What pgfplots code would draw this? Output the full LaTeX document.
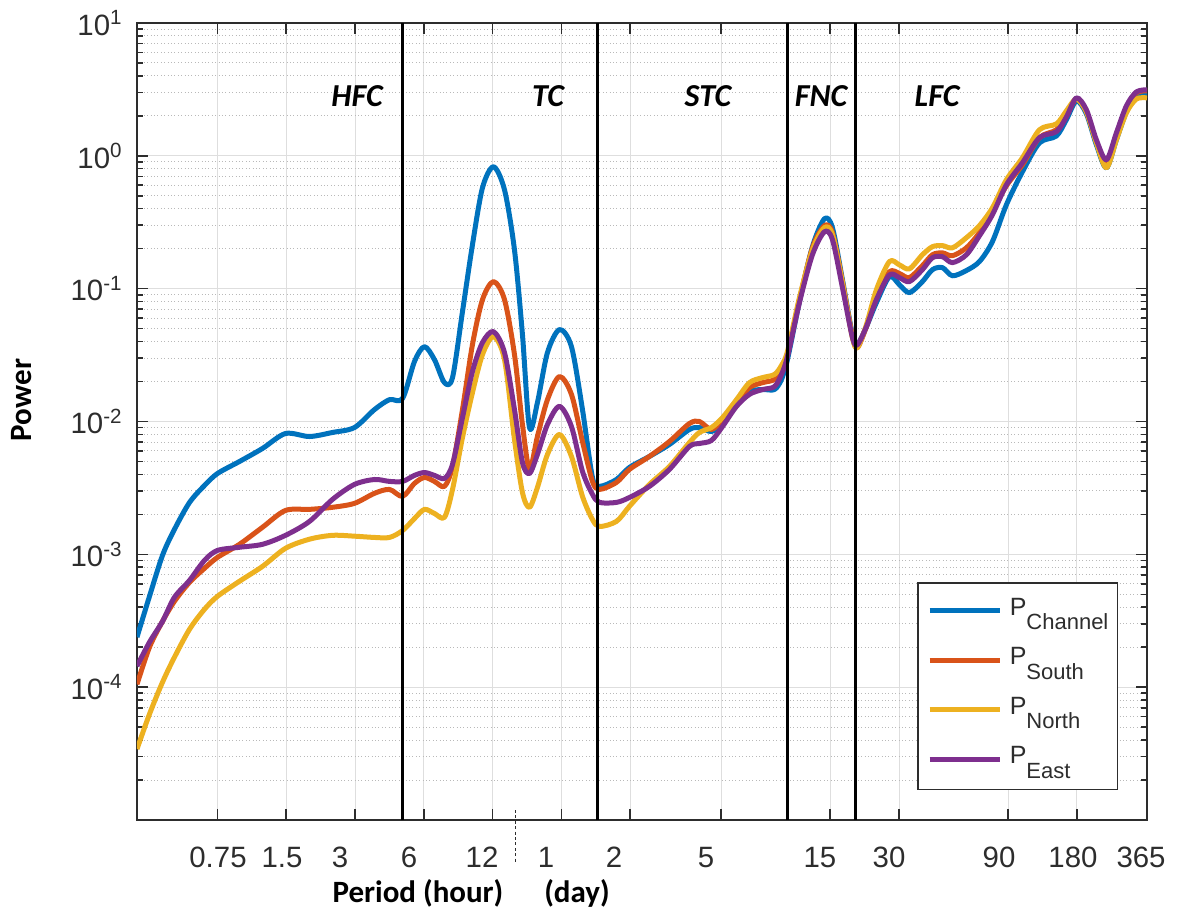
\documentclass[border=0pt]{standalone}
\usepackage{fontspec}
\setmainfont{Liberation Sans}
\newfontfamily\carlito{Carlito}
\usepackage{pgfplots}
\usepackage{pgfplotstable}
\pgfplotsset{compat=1.18}
\definecolor{mblue}{RGB}{0,114,189}
\definecolor{morange}{RGB}{217,83,25}
\definecolor{myellow}{RGB}{237,177,32}
\definecolor{mpurple}{RGB}{126,47,142}
\definecolor{tickgray}{RGB}{45,45,45}
\definecolor{gridgray}{RGB}{222,222,222}
\definecolor{minorgray}{RGB}{185,185,185}
\newcommand\tickfont{\fontsize{14.7}{16}\selectfont}
\newcommand\regfont{\carlito\bfseries\itshape\fontsize{16}{19}\selectfont}
\newcommand\labfont{\carlito\bfseries\fontsize{15.5}{18}\selectfont}
\newcommand\sub[1]{\raisebox{-7.2pt}{\fontsize{11}{12}\selectfont #1}}

% period in hours, power
\pgfplotstableread{
period channel south north east
0.3333 2.38e-4 1.05e-4 3.42e-5 1.44e-4
0.378 4.83e-4 2.00e-4 6.27e-5 2.18e-4
0.431 9.83e-4 3.13e-4 1.09e-4 3.13e-4
0.486 1.54e-3 4.43e-4 1.68e-4 4.75e-4
0.566 2.46e-3 6.16e-4 2.73e-4 6.37e-4
0.658 3.30e-3 7.85e-4 3.86e-4 9.01e-4
0.75 4.06e-3 9.49e-4 4.83e-4 1.07e-3
0.936 5.00e-3 1.19e-3 6.27e-4 1.13e-3
1.181 6.27e-3 1.60e-3 8.12e-4 1.19e-3
1.488 8.12e-3 2.14e-3 1.11e-3 1.39e-3
1.895 7.71e-3 2.18e-3 1.30e-3 1.77e-3
2.389 8.27e-3 2.26e-3 1.39e-3 2.59e-3
2.982 9.01e-3 2.42e-3 1.37e-3 3.36e-3
3.648 1.23e-2 2.88e-3 1.34e-3 3.66e-3
4.243 1.46e-2 3.08e-3 1.34e-3 3.54e-3
4.84 1.49e-2 2.73e-3 1.51e-3 3.54e-3
5.458 2.83e-2 3.42e-3 1.86e-3 3.93e-3
6.035 3.66e-2 3.79e-3 2.18e-3 4.13e-3
6.676 2.92e-2 3.54e-3 2.03e-3 3.93e-3
7.385 1.96e-2 3.25e-3 1.90e-3 3.73e-3
8.007 2.14e-2 4.59e-3 3.08e-3 4.75e-3
8.854 6.72e-2 1.23e-2 7.58e-3 1.07e-2
9.789 0.214 3.79e-2 1.65e-2 2.38e-2
10.83 0.575 8.27e-2 3.19e-2 3.93e-2
12.10 0.827 0.113 4.36e-2 4.75e-2
13.52 0.555 8.27e-2 2.92e-2 3.30e-2
14.95 0.196 3.19e-2 7.32e-3 1.23e-2
16.20 4.51e-2 9.49e-3 2.92e-3 4.92e-3
17.39 9.01e-3 4.36e-3 2.26e-3 4.06e-3
18.84 1.39e-2 7.71e-3 3.19e-3 5.65e-3
20.84 3.30e-2 1.46e-2 5.65e-3 9.49e-3
23.52 4.92e-2 2.18e-2 7.98e-3 1.30e-2
26.54 3.66e-2 1.60e-2 5.46e-3 9.17e-3
29.66 1.23e-2 7.07e-3 2.73e-3 4.21e-3
32.80 3.79e-3 3.54e-3 1.83e-3 2.83e-3
35.19 3.25e-3 3.08e-3 1.62e-3 2.46e-3
41.77 3.66e-3 3.48e-3 1.77e-3 2.46e-3
47.62 4.51e-3 4.36e-3 2.30e-3 2.68e-3
58.25 5.46e-3 5.46e-3 3.36e-3 3.25e-3
71.25 6.72e-3 7.07e-3 4.59e-3 4.36e-3
87.16 8.71e-3 9.66e-3 6.95e-3 6.49e-3
96.39 9.01e-3 1.00e-2 8.27e-3 6.83e-3
108.8 8.41e-3 8.71e-3 9.01e-3 7.20e-3
121.6 9.66e-3 1.03e-2 1.07e-2 9.17e-3
140.0 1.32e-2 1.39e-2 1.46e-2 1.30e-2
159.5 1.68e-2 1.80e-2 1.96e-2 1.60e-2
181.9 1.74e-2 1.96e-2 2.14e-2 1.74e-2
205.2 1.74e-2 2.07e-2 2.26e-2 1.83e-2
220.2 2.07e-2 2.46e-2 2.64e-2 2.26e-2
233.9 2.92e-2 3.19e-2 3.36e-2 3.08e-2
264.0 7.98e-2 8.27e-2 8.56e-2 7.85e-2
300.9 0.207 0.203 0.196 0.180
339.6 0.336 0.298 0.288 0.268
368.1 0.288 0.264 0.255 0.234
407.1 0.117 0.113 0.111 0.102
450.3 4.51e-2 4.36e-2 4.28e-2 4.28e-2
473.5 3.79e-2 3.60e-2 3.60e-2 3.79e-2
518.5 5.18e-2 5.18e-2 5.36e-2 5.18e-2
573.4 7.85e-2 8.71e-2 9.83e-2 8.27e-2
653.6 0.123 0.134 0.160 0.127
723.0 0.107 0.130 0.151 0.121
799.6 9.33e-2 0.121 0.141 0.113
911.3 0.113 0.149 0.180 0.139
1008 0.139 0.180 0.207 0.171
1115 0.144 0.186 0.211 0.174
1233 0.125 0.177 0.203 0.157
1420 0.137 0.203 0.242 0.180
1619 0.160 0.264 0.298 0.250
1845 0.226 0.379 0.406 0.360
2124 0.428 0.595 0.660 0.605
2496 0.758 0.856 0.966 0.886
2963 1.25 1.37 1.57 1.37
3516 1.41 1.57 1.74 1.52
3888 1.87 2.00 2.18 1.96
4301 2.59 2.68 2.68 2.73
4757 2.07 2.14 2.14 2.22
5260 1.21 1.27 1.25 1.32
5819 0.812 0.871 0.812 0.933
6435 1.32 1.44 1.32 1.49
7118 2.14 2.30 2.11 2.38
7873 2.83 2.98 2.68 3.03
8760 2.88 3.08 2.73 3.14
}\spectra

\begin{document}
\begin{tikzpicture}
\begin{axis}[
  scale only axis, width=505pt, height=398.5pt,
  xmode=log, ymode=log,
  xmin=0.3333, xmax=8760, ymin=1e-5, ymax=10,
  clip mode=individual,
  xtick={0.75,1.5,3,6,12,24,48,120,360,720,2160,4320,8760},
  xticklabels={{},{},{},{},{},{},{},{},{},{},{},{},{}},
  ytick={1e-5,1e-4,1e-3,1e-2,1e-1,1,10},
  yticklabels={{},10\textsuperscript{-4},10\textsuperscript{-3},10\textsuperscript{-2},10\textsuperscript{-1},10\textsuperscript{0},10\textsuperscript{1}},
  minor ytick={2e-5,3e-5,4e-5,5e-5,6e-5,7e-5,8e-5,9e-5,
               2e-4,3e-4,4e-4,5e-4,6e-4,7e-4,8e-4,9e-4,
               2e-3,3e-3,4e-3,5e-3,6e-3,7e-3,8e-3,9e-3,
               2e-2,3e-2,4e-2,5e-2,6e-2,7e-2,8e-2,9e-2,
               0.2,0.3,0.4,0.5,0.6,0.7,0.8,0.9,
               2,3,4,5,6,7,8,9},
  yticklabel style={font=\tickfont, text=tickgray, anchor=east, inner sep=0pt, xshift=-7pt},
  xmajorgrids, ymajorgrids, yminorgrids,
  major grid style={gridgray, line width=0.5pt},
  minor grid style={minorgray, line width=0.5pt, dash pattern=on 0.5pt off 1.2pt},
  axis line style={tickgray, line width=0.9pt},
  tick style={tickgray, line width=0.8pt},
  major tick length=5.5pt, minor tick length=3pt,
  ylabel={Power},
  ylabel style={font=\labfont, text=black, at={(axis description cs:-0.1139,0.527)}, anchor=center},
  legend image code/.code={\draw[#1, line width=2.5pt] (0pt,2.2pt) -- (35pt,2.2pt);},
  legend cell align=left,
  legend style={at={(axis description cs:0.7723,0.2986)}, anchor=north west,
    draw=tickgray, line width=0.75pt, fill=white,
    inner xsep=4.65pt, inner ysep=5.5pt, row sep=6.75pt, column sep=3.85pt,
    font=\fontsize{12.5}{14}\selectfont, text=tickgray,
    cells={anchor=base west},
    nodes={inner sep=0pt, text height=10.8pt, text depth=7.2pt}},
]
\addplot[mblue, line width=2.5pt, smooth, line join=round] table[x=period, y=channel] {\spectra};
\addlegendentry{P\sub{Channel}}
\addplot[morange, line width=2.5pt, smooth, line join=round] table[x=period, y=south] {\spectra};
\addlegendentry{P\sub{South}}
\addplot[myellow, line width=2.5pt, smooth, line join=round] table[x=period, y=north] {\spectra};
\addlegendentry{P\sub{North}}
\addplot[mpurple, line width=2.5pt, smooth, line join=round] table[x=period, y=east] {\spectra};
\addlegendentry{P\sub{East}}

\addplot[black, line width=1.5pt, forget plot] coordinates {(4.84,1e-5) (4.84,10)};
\addplot[black, line width=1.5pt, forget plot] coordinates {(34.5,1e-5) (34.5,10)};
\addplot[black, line width=1.5pt, forget plot] coordinates {(234,1e-5) (234,10)};
\addplot[black, line width=1.5pt, forget plot] coordinates {(464,1e-5) (464,10)};

% region labels
\node[font=\regfont, anchor=base] at (axis description cs:0.2178,0.8946) {HFC};
\node[font=\regfont, anchor=base] at (axis description cs:0.4069,0.8946) {TC};
\node[font=\regfont, anchor=base] at (axis description cs:0.5653,0.8946) {STC};
\node[font=\regfont, anchor=base] at (axis description cs:0.6772,0.8946) {FNC};
\node[font=\regfont, anchor=base] at (axis description cs:0.7921,0.8946) {LFC};

% x tick labels
\begin{scope}[every node/.style={font=\tickfont, text=tickgray, anchor=base, inner sep=0pt}]
\node at (axis description cs:0.0802,-0.0602) {0.75};
\node at (axis description cs:0.1436,-0.0602) {1.5};
\node at (axis description cs:0.2010,-0.0602) {3};
\node at (axis description cs:0.2693,-0.0602) {6};
\node at (axis description cs:0.3416,-0.0602) {12};
\node at (axis description cs:0.4050,-0.0602) {1};
\node at (axis description cs:0.4723,-0.0602) {2};
\node at (axis description cs:0.5634,-0.0602) {5};
\node at (axis description cs:0.6762,-0.0602) {15};
\node at (axis description cs:0.7446,-0.0602) {30};
\node at (axis description cs:0.8535,-0.0602) {90};
\node at (axis description cs:0.9267,-0.0602) {180};
\node at (axis description cs:0.9941,-0.0602) {365};
\end{scope}
\draw[tickgray, line width=0.5pt, dash pattern=on 1.5pt off 1.2pt]
  (axis description cs:0.3752,0.0125) -- (axis description cs:0.3752,-0.0527);

% x axis label
\node[font=\labfont, anchor=base] at (axis description cs:0.2782,-0.1029) {Period (hour)};
\node[font=\labfont, anchor=base] at (axis description cs:0.4356,-0.1029) {(day)};
\end{axis}
\pgfresetboundingbox
\path[use as bounding box] (-68.5pt,-46.5pt) rectangle (520pt,410pt);
\end{tikzpicture}
\end{document}
